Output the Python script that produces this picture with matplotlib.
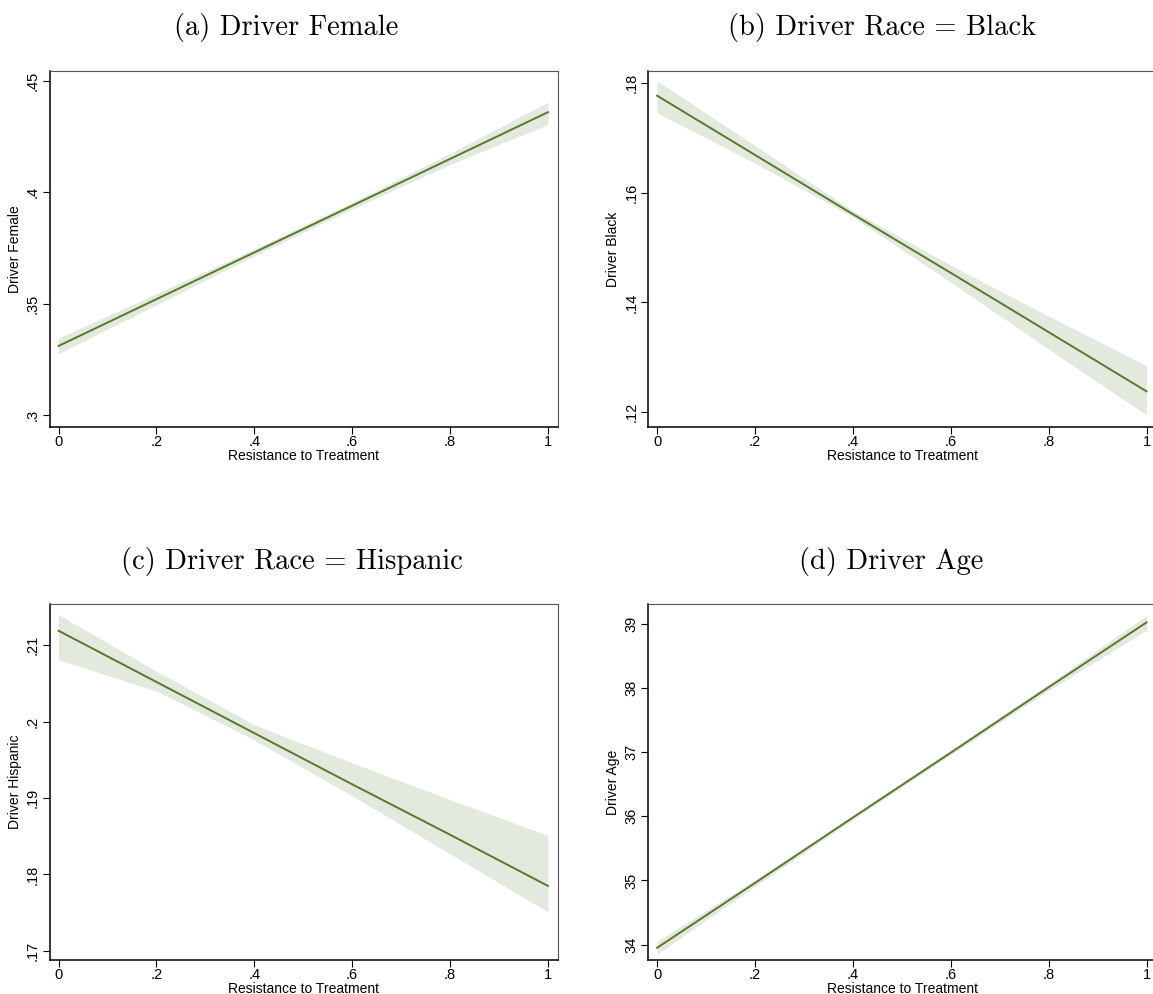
import matplotlib
matplotlib.use("Agg")
import matplotlib.pyplot as plt

# x grid shared by all four panels (Resistance to Treatment)
x_vals = [0, 0.2, 0.4, 0.6, 0.8, 1.0]
x_ticks = [0, 0.2, 0.4, 0.6, 0.8, 1.0]
x_ticklabels = ["0", ".2", ".4", ".6", ".8", "1"]

# (a) Driver Female
female_fit = [0.331, 0.352, 0.373, 0.394, 0.415, 0.436]
female_lo = [0.3275, 0.3495, 0.3715, 0.3925, 0.4125, 0.4305]
female_hi = [0.3345, 0.3545, 0.3745, 0.3955, 0.4175, 0.4405]
female_ticks = [0.3, 0.35, 0.4, 0.45]
female_ticklabels = [".3", ".35", ".4", ".45"]

# (b) Driver Race = Black
black_fit = [0.1777, 0.1669, 0.1561, 0.1454, 0.1346, 0.1238]
black_lo = [0.1746, 0.1654, 0.1556, 0.1437, 0.1315, 0.1195]
black_hi = [0.1804, 0.1686, 0.1567, 0.1468, 0.1375, 0.1285]
black_ticks = [0.12, 0.14, 0.16, 0.18]
black_ticklabels = [".12", ".14", ".16", ".18"]

# (c) Driver Race = Hispanic
hisp_fit = [0.2119, 0.2052, 0.1985, 0.1918, 0.1852, 0.1785]
hisp_lo = [0.2081, 0.2040, 0.1976, 0.1903, 0.1827, 0.1751]
hisp_hi = [0.2140, 0.2066, 0.1996, 0.1946, 0.1898, 0.1851]
hisp_ticks = [0.17, 0.18, 0.19, 0.20, 0.21]
hisp_ticklabels = [".17", ".18", ".19", ".2", ".21"]

# (d) Driver Age
age_fit = [33.95, 34.96, 35.98, 36.99, 38.01, 39.02]
age_lo = [33.85, 34.91, 35.95, 36.96, 37.96, 38.90]
age_hi = [34.05, 35.01, 36.01, 37.03, 38.06, 39.13]
age_ticks = [34, 35, 36, 37, 38, 39]
age_ticklabels = ["34", "35", "36", "37", "38", "39"]

W, H = 1153, 994
LINE = "#557a2e"
BAND = "#e3e9dc"
SANS = "Liberation Sans"

fig = plt.figure(figsize=(W / 100, H / 100), dpi=100)


def panel(left, top, fit, lo, hi, ylim, yticks, yticklabels, ylabel,
          title, title_x):
    # axes placed in pixel coordinates of the reference
    ax = fig.add_axes([left / W, 1 - (top + 356) / H, 508 / W, 356 / H])
    ax.fill_between(x_vals, lo, hi, color=BAND, lw=0)
    ax.plot(x_vals, fit, color=LINE, lw=1.4)
    ax.set_xlim(-0.018, 1.02)
    ax.set_ylim(*ylim)
    ax.set_xticks(x_ticks)
    ax.set_xticklabels(x_ticklabels, family=SANS, fontsize=10.5)
    ax.set_yticks(yticks)
    ax.set_yticklabels(yticklabels, family=SANS, fontsize=10.5,
                       rotation=90, va="center")
    ax.tick_params(direction="out", length=4.7, width=0.8,
                   top=False, right=False)
    ax.tick_params(axis="x", pad=1)
    ax.tick_params(axis="y", pad=2.5)
    for s in ["left", "bottom"]:
        ax.spines[s].set_linewidth(1.1)
        ax.spines[s].set_color("black")
    for s in ["top", "right"]:
        ax.spines[s].set_linewidth(0.8)
        ax.spines[s].set_color("#555555")
    ax.set_xlabel("Resistance to Treatment", family=SANS, fontsize=10,
                  labelpad=0)
    ax.set_ylabel(ylabel, family=SANS, fontsize=10, labelpad=3)
    fig.text(title_x / W, 1 - (top - 43) / H, title, family="cmr10",
             fontsize=20.5, ha="center", va="center")
    return ax


panel(49.7, 71, female_fit, female_lo, female_hi, (0.2946, 0.4545),
      female_ticks, female_ticklabels, "Driver Female",
      "(a) Driver Female", 286)
panel(648.3, 71, black_fit, black_lo, black_hi, (0.1173, 0.1822),
      black_ticks, black_ticklabels, "Driver Black",
      "(b) Driver Race = Black", 882)
panel(49.7, 604, hisp_fit, hisp_lo, hisp_hi, (0.1688, 0.2154),
      hisp_ticks, hisp_ticklabels, "Driver Hispanic",
      "(c) Driver Race = Hispanic", 292)
panel(648.3, 604, age_fit, age_lo, age_hi, (33.76, 39.307),
      age_ticks, age_ticklabels, "Driver Age",
      "(d) Driver Age", 891)

fig.savefig("out.png", dpi=100)
